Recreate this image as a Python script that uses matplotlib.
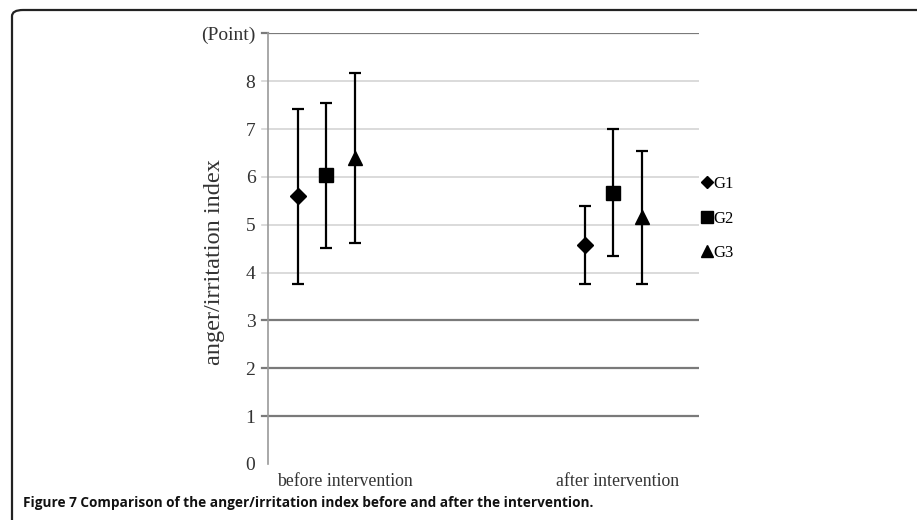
import matplotlib
matplotlib.use("Agg")
import matplotlib.pyplot as plt
from matplotlib.patches import FancyBboxPatch
from matplotlib.lines import Line2D
import numpy as np

# Data
phases = ["before intervention", "after intervention"]
groups = ["G1", "G2", "G3"]
g1_mean = [5.59, 4.58]
g1_sd = [1.82, 0.81]
g2_mean = [6.03, 5.67]
g2_sd = [1.51, 1.33]
g3_mean = [6.40, 5.16]
g3_sd = [1.78, 1.39]
y_ticks = [0, 1, 2, 3, 4, 5, 6, 7, 8, 9]
y_tick_labels = ["0", "1", "2", "3", "4", "5", "6", "7", "8", "(Point)"]

means = [g1_mean, g2_mean, g3_mean]
sds = [g1_sd, g2_sd, g3_sd]
markers = ["D", "s", "^"]
msizes = [8, 10, 10]
offsets = [-0.1, 0.0, 0.1]

serif = ["Liberation Serif", "DejaVu Serif"]

fig = plt.figure(figsize=(9.17, 5.2), dpi=100)

# Rounded frame around the figure panel
frame = FancyBboxPatch((12 / 917, -0.2), 1.2, 1 - 10 / 520 + 0.2,
                       boxstyle="round,pad=0,rounding_size=0.012",
                       transform=fig.transFigure, fill=False,
                       edgecolor="#222222", linewidth=1.6)
fig.patches.append(frame)

ax = fig.add_axes([268 / 917, 1 - 464 / 520, (699 - 268) / 917, (464 - 33.3) / 520])
x = np.arange(len(phases))

for m, s, mk, ms, off, g in zip(means, sds, markers, msizes, offsets, groups):
    ax.errorbar(x + off, m, yerr=s, fmt=mk, color="black", markersize=ms,
                ecolor="black", elinewidth=1.6, capsize=4, capthick=1.6,
                label=g, zorder=3)

ax.set_xlim(-0.204, 1.299)
ax.set_ylim(0, 9)
ax.set_yticks(y_ticks)
ax.set_yticklabels(y_tick_labels, fontfamily=serif, fontsize=14, color="#333333")
ax.set_xticks([])

# Horizontal gridlines, each with a short tick sticking out to the left
for v in y_ticks[1:]:
    col = "#7a7a7a" if v in (1, 2, 3, 9) else "#d4d4d4"
    lw = 1.6 if v in (1, 2, 3, 9) else 1.2
    ax.axhline(v, color=col, linewidth=lw, zorder=1)
    ax.plot([-0.014, 0], [v, v], transform=ax.get_yaxis_transform(),
            color=col, linewidth=lw, clip_on=False)
ax.tick_params(axis="y", length=0, pad=9)

for sp in ["top", "right", "bottom"]:
    ax.spines[sp].set_visible(False)
ax.spines["left"].set_color("#9a9a9a")
ax.spines["left"].set_linewidth(1.2)

ax.set_ylabel("anger/irritation index", fontfamily=serif, fontsize=17.5,
              color="#333333")
ax.yaxis.set_label_coords(-0.1, 0.47)

# Category labels under the axis
for xi, name in zip([0.064, 1.016], phases):
    ax.text(xi, -0.022, name, transform=ax.get_xaxis_transform(),
            ha="center", va="top", fontfamily=serif, fontsize=12.8,
            color="#333333")

handles = [Line2D([], [], marker=mk, color="black", linestyle="none",
                  markersize=ms * 0.8) for mk, ms in zip(markers, msizes)]
ax.legend(handles, groups, loc="center left", bbox_to_anchor=(0.975, 0.57),
          frameon=False, prop={"family": serif, "size": 12},
          handlelength=0.8, handletextpad=0.0, labelspacing=1.1,
          borderaxespad=0.3)

fig.text(23 / 917, 1 - 503 / 520,
         "Figure 7 Comparison of the anger/irritation index before and after the intervention.",
         fontfamily=["Open Sans", "DejaVu Sans"], fontweight="bold",
         fontsize=9.8, ha="left", va="center", color="#111111")

fig.savefig("out.png", dpi=100)
